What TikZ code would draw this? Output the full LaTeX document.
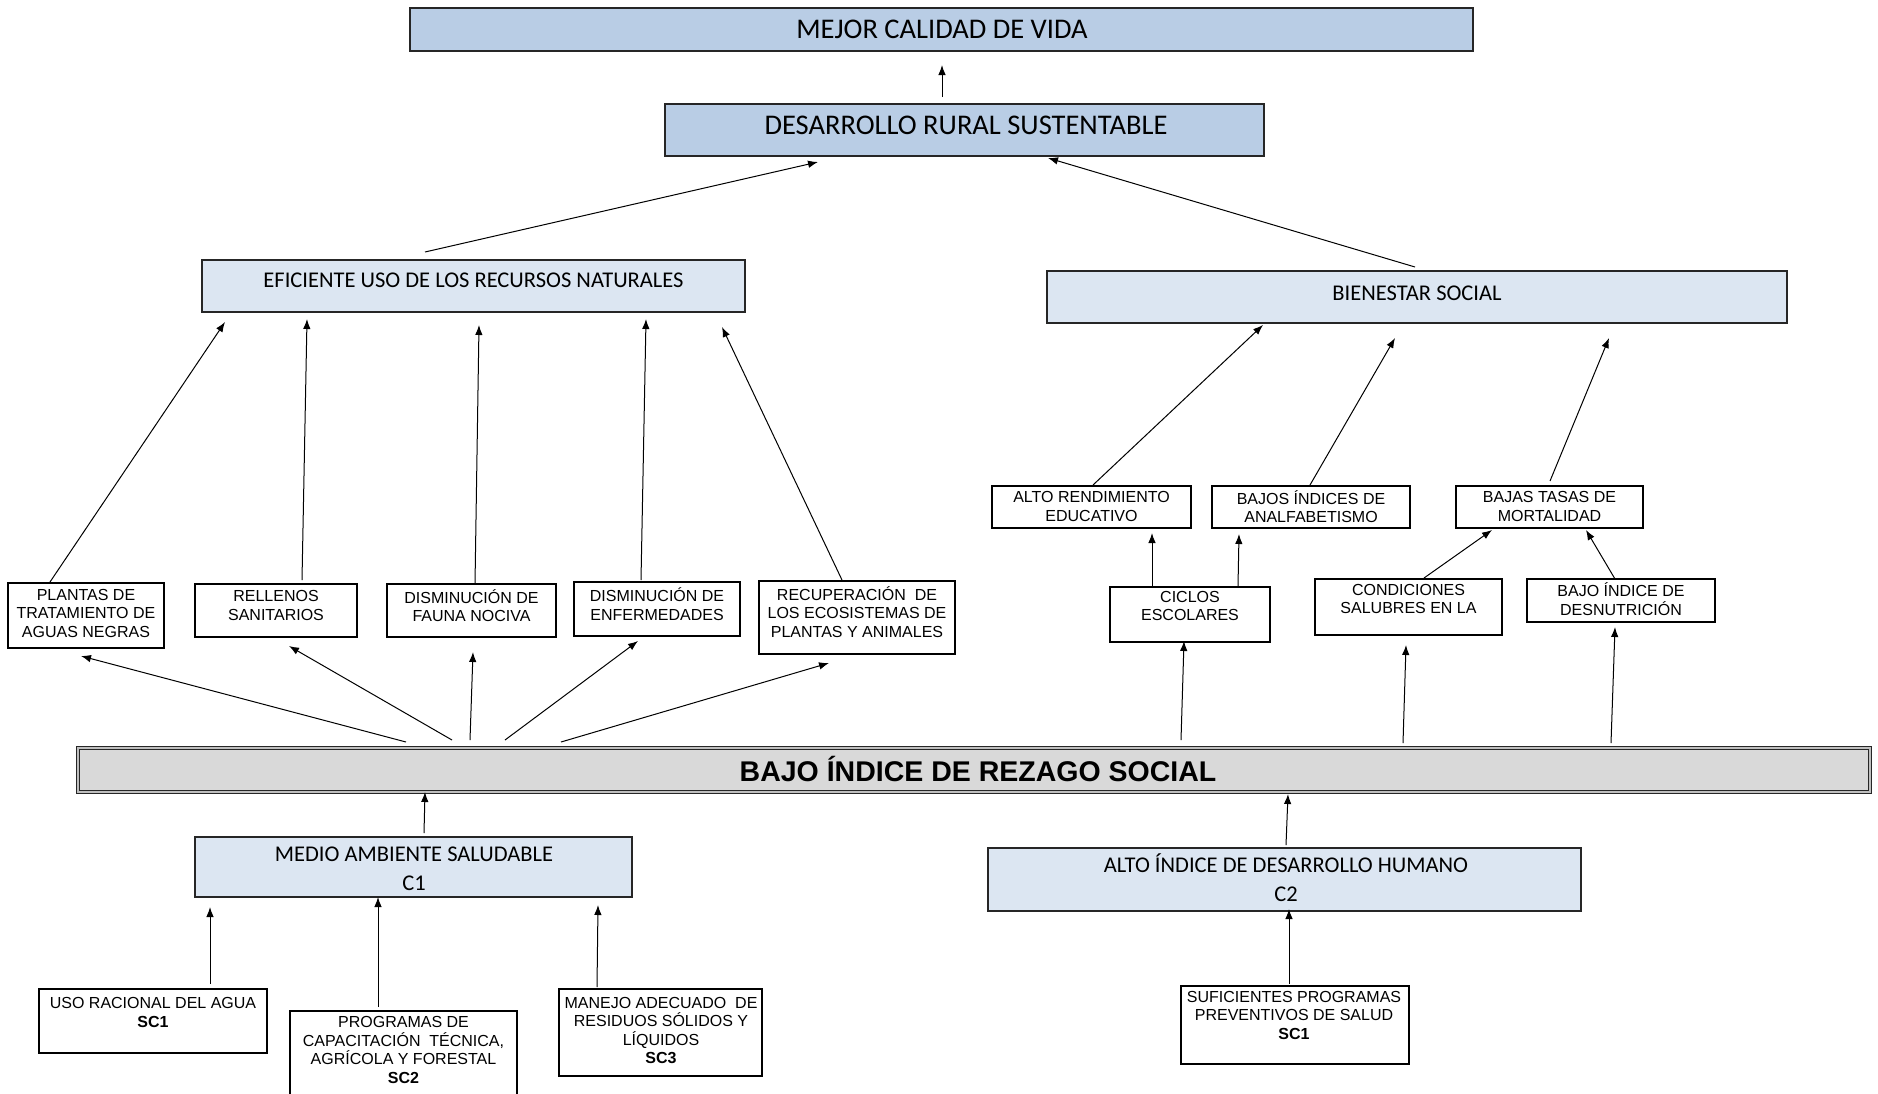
\documentclass[tikz,border=0pt]{standalone}
\usepackage{fontspec}
\newfontfamily\carlfont{Carlito}
\newfontfamily\arifont{Liberation Sans}
\usetikzlibrary{fit,calc,arrows.meta}
\definecolor{topblue}{HTML}{B9CDE5}
\definecolor{lightblue}{HTML}{DCE6F2}
\definecolor{grayfill}{HTML}{D9D9D9}
\begin{document}
\begin{tikzpicture}[x=0.4pt,y=-0.4pt,
 box/.style={draw=black, line width=0.5pt, inner sep=0pt, outer sep=0pt},
 bluebox/.style={box, draw=black!85, fill=topblue},
 lbox/.style={box, draw=black!85, fill=lightblue},
 wbox/.style={box, fill=white},
 dbox/.style={box, fill=grayfill, draw=black!85, double=black!25, double distance=0.5pt, line width=0.45pt},
 bigtxt/.style={font=\carlfont\fontsize{11.4}{13.7}\selectfont, inner sep=0pt, text height=7.3pt, text depth=0pt},
 onetxt/.style={font=\carlfont\fontsize{9}{11.4}\selectfont, inner sep=0pt, text height=5.8pt, text depth=0pt},
 midtxt/.style={font=\carlfont\fontsize{9}{11.4}\selectfont, align=center, inner sep=0pt},
 bajotxt/.style={font=\arifont\bfseries\fontsize{11.4}{13.7}\selectfont, inner sep=0pt, text height=8.2pt, text depth=0pt},
 smalltxt/.style={font=\arifont\fontsize{6.4}{7.4}\selectfont, align=center, inner sep=0pt},
 arr/.style={-{Latex[length=4pt,width=3pt]}, line width=0.4pt}
]
\fill[white] (0,0) rectangle (1878,1093);
\useasboundingbox (0,0) rectangle (1878,1093);

% boxes
\node[bluebox, fit={(410,8)(1473,51)}] (mejor) {};
\node[bluebox, fit={(665,104)(1264,156)}] (desarrollo) {};
\node[lbox, fit={(202,260)(745,312)}] (eficiente) {};
\node[lbox, fit={(1047,271)(1787,323)}] (bienestar) {};
\node[wbox, fit={(8,583)(164,648)}] (plantas) {};
\node[wbox, fit={(195,584)(357,637)}] (rellenos) {};
\node[wbox, fit={(387,584)(556,637)}] (fauna) {};
\node[wbox, fit={(574,582)(740,636)}] (enferm) {};
\node[wbox, fit={(759,581)(955,654)}] (recup) {};
\node[wbox, fit={(992,486)(1191,528)}] (altorend) {};
\node[wbox, fit={(1212,486)(1410,528)}] (bajosind) {};
\node[wbox, fit={(1456,486)(1643,528)}] (bajastasas) {};
\node[wbox, fit={(1110,587)(1270,642)}] (ciclos) {};
\node[wbox, fit={(1315,579)(1502,635)}] (condic) {};
\node[wbox, fit={(1527,579)(1715,622)}] (desnut) {};
\node[dbox, fit={(78,748)(1870,792)}] (bajo) {};
\node[lbox, fit={(195,837)(632,897)}] (medio) {};
\node[lbox, fit={(988,848)(1581,911)}] (altoidh) {};
\node[wbox, fit={(39,989)(267,1053)}] (uso) {};
\node[wbox, fit={(290,1011)(517,1110)}] (programas) {};
\node[wbox, fit={(559,989)(762,1076)}] (manejo) {};
\node[wbox, fit={(1181,986)(1409,1064)}] (suficientes) {};

% texts
\node[bigtxt] (mejorT) at (942,29) {MEJOR CALIDAD DE VIDA};
\node[bigtxt] (desarrolloT) at (966,125) {DESARROLLO RURAL SUSTENTABLE};
\node[onetxt] (eficienteT) at (473.5,280) {EFICIENTE USO DE LOS RECURSOS NATURALES};
\node[onetxt] (bienestarT) at (1417,293) {BIENESTAR SOCIAL};
\node[midtxt] (medioT) at (414,869) {MEDIO AMBIENTE SALUDABLE\\C1};
\node[midtxt] (altoidhT) at (1286,877.5) {ALTO ÍNDICE DE DESARROLLO HUMANO\\C2};
\node[bajotxt] (bajoT) at (978,771) {BAJO ÍNDICE DE REZAGO SOCIAL};

\node[smalltxt] (plantasT) at (86,613) {PLANTAS DE\\TRATAMIENTO DE\\AGUAS NEGRAS};
\node[smalltxt] (rellenosT) at (276,605.5) {RELLENOS\\SANITARIOS};
\node[smalltxt] (faunaT) at (471.5,605.5) {DISMINUCIÓN DE\\FAUNA NOCIVA};
\node[smalltxt] (enfermT) at (657,604) {DISMINUCIÓN DE\\ENFERMEDADES};
\node[smalltxt] (recupT) at (857,612) {RECUPERACIÓN\ \ DE\\LOS ECOSISTEMAS DE\\PLANTAS Y ANIMALES};
\node[smalltxt] (altorendT) at (1091.5,506.5) {ALTO RENDIMIENTO\\EDUCATIVO};
\node[smalltxt] (bajosindT) at (1311,506.5) {BAJOS ÍNDICES DE\\ANALFABETISMO};
\node[smalltxt] (bajastasasT) at (1549.5,506.5) {BAJAS TASAS DE\\MORTALIDAD};
\node[smalltxt] (ciclosT) at (1190,606) {CICLOS\\ESCOLARES};
\node[smalltxt] (condicT) at (1408.5,599) {CONDICIONES\\SALUBRES EN LA};
\node[smalltxt] (desnutT) at (1621,599) {BAJO ÍNDICE DE\\DESNUTRICIÓN};
\node[smalltxt] (usoT) at (153,1012.5) {USO RACIONAL DEL AGUA\\\textbf{SC1}};
\node[smalltxt] (programasT) at (403.5,1050) {PROGRAMAS DE\\CAPACITACIÓN\ \ TÉCNICA,\\AGRÍCOLA Y FORESTAL\\\textbf{SC2}};
\node[smalltxt] (manejoT) at (661,1030.5) {MANEJO ADECUADO\ \ DE\\RESIDUOS SÓLIDOS Y\\LÍQUIDOS\\\textbf{SC3}};
\node[smalltxt] (suficientesT) at (1294,1015) {SUFICIENTES PROGRAMAS\\PREVENTIVOS DE SALUD\\\textbf{SC1}};

% arrows
\draw[arr] ($(desarrollo.north west)+(277,-7)$) -- ($(mejor.north west)+(532,57)$);
\draw[arr] ($(eficiente.north west)+(223,-8)$) -- ($(desarrollo.north west)+(153,58)$);
\draw[arr] ($(bienestar.north west)+(368,-4)$) -- ($(desarrollo.north west)+(383,54)$);
\draw[arr] ($(plantas.north west)+(42,-1)$) -- ($(eficiente.north west)+(23,62)$);
\draw[arr] ($(rellenos.north west)+(107,-4)$) -- ($(eficiente.north west)+(105,59)$);
\draw[arr] ($(fauna.north west)+(88,0)$) -- ($(eficiente.north west)+(277,65)$);
\draw[arr] ($(enferm.north west)+(67,-2)$) -- ($(eficiente.north west)+(444,59)$);
\draw[arr] ($(recup.north west)+(83,-1)$) -- ($(eficiente.north west)+(520,67)$);
\draw[arr] ($(bajo.north west)+(328,-6)$) -- ($(plantas.north west)+(73,73)$);
\draw[arr] ($(bajo.north west)+(374,-8)$) -- ($(rellenos.north west)+(94,62)$);
\draw[arr] ($(bajo.north west)+(392,-8)$) -- ($(fauna.north west)+(86,68)$);
\draw[arr] ($(bajo.north west)+(427,-8)$) -- ($(enferm.north west)+(64,59)$);
\draw[arr] ($(bajo.north west)+(483,-6)$) -- ($(recup.north west)+(70,82)$);
\draw[arr] ($(altorend.north west)+(101,-1)$) -- ($(bienestar.north west)+(216,54)$);
\draw[arr] ($(bajosind.north west)+(98,-1)$) -- ($(bienestar.north west)+(348,67)$);
\draw[arr] ($(bajastasas.north west)+(94,-5)$) -- ($(bienestar.north west)+(562,67)$);
\draw[arr] ($(ciclos.north west)+(42,-1)$) -- ($(altorend.north west)+(160,47)$);
\draw[arr] ($(ciclos.north west)+(128,-1)$) -- ($(bajosind.north west)+(27,48)$);
\draw[arr] ($(condic.north west)+(109,-1)$) -- ($(bajastasas.north west)+(36,44)$);
\draw[arr] ($(desnut.north west)+(88,0)$) -- ($(bajastasas.north west)+(130,44)$);
\draw[arr] ($(bajo.north west)+(1103,-8)$) -- ($(ciclos.north west)+(74,54)$);
\draw[arr] ($(bajo.north west)+(1325,-5)$) -- ($(condic.north west)+(91,66)$);
\draw[arr] ($(bajo.north west)+(1533,-5)$) -- ($(desnut.north west)+(88,48)$);
\draw[arr] ($(medio.north west)+(229,-4)$) -- ($(bajo.north west)+(347,44)$);
\draw[arr] ($(uso.north west)+(171,-5)$) -- ($(medio.north west)+(15,70)$);
\draw[arr] ($(programas.north west)+(88,-4)$) -- ($(medio.north west)+(183,60)$);
\draw[arr] ($(manejo.north west)+(38,-2)$) -- ($(medio.north west)+(403,68)$);
\draw[arr] ($(altoidh.north west)+(298,-3)$) -- ($(bajo.north west)+(1210,46)$);
\draw[arr] ($(suficientes.north west)+(108,-2)$) -- ($(altoidh.north west)+(301,61)$);
\end{tikzpicture}
\end{document}
